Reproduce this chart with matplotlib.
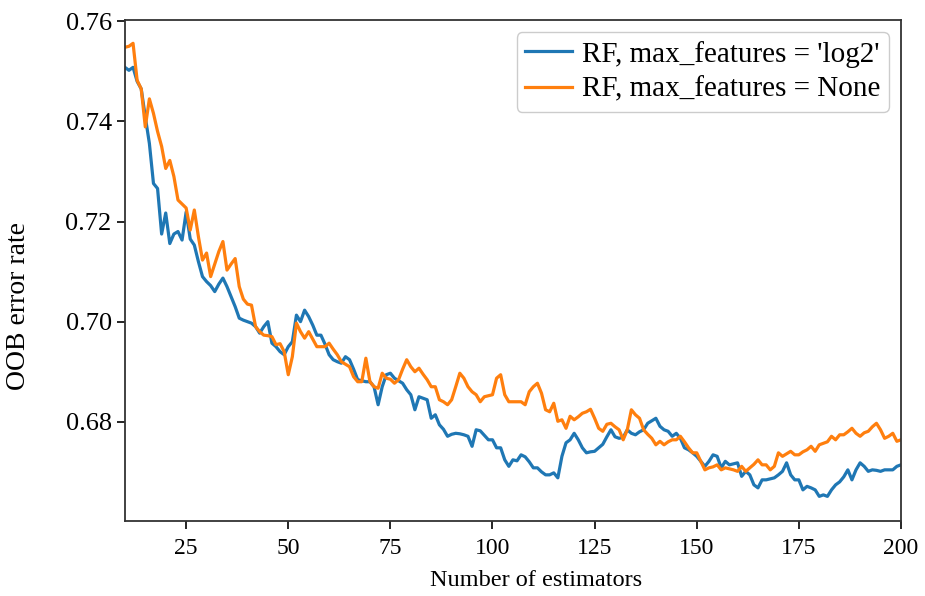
import numpy as np
import matplotlib
matplotlib.use("Agg")
import matplotlib.pyplot as plt

# number of trees in the forest
n_estimators = list(range(10, 201))

# OOB error, max_features = 'log2'
oob_log2 = [
    0.7508, 0.7502, 0.7508, 0.7480, 0.7465, 0.7409, 0.7356, 0.7276, 0.7266, 0.7175,
    0.7217, 0.7156, 0.7175, 0.7180, 0.7163, 0.7219, 0.7165, 0.7153, 0.7120, 0.7090,
    0.7080, 0.7072, 0.7060, 0.7075, 0.7087, 0.7070, 0.7050, 0.7030, 0.7007, 0.7003,
    0.7000, 0.6997, 0.6990, 0.6977, 0.6990, 0.7000, 0.6957, 0.6950, 0.6940, 0.6934,
    0.6950, 0.6960, 0.7013, 0.7000, 0.7023, 0.7010, 0.6993, 0.6973, 0.6973, 0.6955,
    0.6934, 0.6924, 0.6920, 0.6917, 0.6930, 0.6924, 0.6905, 0.6884, 0.6882, 0.6880,
    0.6880, 0.6870, 0.6834, 0.6870, 0.6894, 0.6897, 0.6887, 0.6882, 0.6877, 0.6864,
    0.6854, 0.6824, 0.6850, 0.6847, 0.6844, 0.6807, 0.6814, 0.6794, 0.6785, 0.6771,
    0.6775, 0.6777, 0.6776, 0.6774, 0.6771, 0.6751, 0.6784, 0.6782, 0.6773, 0.6764,
    0.6764, 0.6748, 0.6748, 0.6724, 0.6711, 0.6724, 0.6722, 0.6734, 0.6730, 0.6720,
    0.6708, 0.6708, 0.6700, 0.6694, 0.6694, 0.6698, 0.6688, 0.6731, 0.6758, 0.6764,
    0.6777, 0.6764, 0.6748, 0.6738, 0.6740, 0.6741, 0.6748, 0.6755, 0.6770, 0.6784,
    0.6770, 0.6767, 0.6769, 0.6784, 0.6777, 0.6774, 0.6780, 0.6784, 0.6797, 0.6802,
    0.6807, 0.6791, 0.6784, 0.6781, 0.6771, 0.6777, 0.6767, 0.6748, 0.6744, 0.6738,
    0.6731, 0.6721, 0.6711, 0.6721, 0.6734, 0.6731, 0.6708, 0.6721, 0.6714, 0.6716,
    0.6718, 0.6691, 0.6701, 0.6694, 0.6674, 0.6668, 0.6684, 0.6684, 0.6686, 0.6688,
    0.6694, 0.6701, 0.6718, 0.6694, 0.6684, 0.6684, 0.6664, 0.6671, 0.6668, 0.6664,
    0.6651, 0.6654, 0.6651, 0.6664, 0.6674, 0.6680, 0.6690, 0.6704, 0.6684, 0.6704,
    0.6718, 0.6711, 0.6701, 0.6704, 0.6703, 0.6701, 0.6704, 0.6704, 0.6704, 0.6711,
    0.6714,
]

# OOB error, max_features = None
oob_none = [
    0.7548, 0.7550, 0.7556, 0.7482, 0.7465, 0.7389, 0.7445, 0.7416, 0.7380, 0.7350,
    0.7306, 0.7322, 0.7290, 0.7243, 0.7235, 0.7227, 0.7183, 0.7223, 0.7170, 0.7123,
    0.7137, 0.7090, 0.7115, 0.7140, 0.7160, 0.7103, 0.7115, 0.7126, 0.7070, 0.7045,
    0.7035, 0.7033, 0.6990, 0.6980, 0.6973, 0.6972, 0.6970, 0.6954, 0.6956, 0.6940,
    0.6894, 0.6930, 0.6997, 0.6980, 0.6967, 0.6980, 0.6965, 0.6950, 0.6950, 0.6950,
    0.6957, 0.6945, 0.6934, 0.6920, 0.6915, 0.6910, 0.6890, 0.6880, 0.6880, 0.6927,
    0.6880, 0.6870, 0.6867, 0.6897, 0.6887, 0.6885, 0.6877, 0.6884, 0.6905, 0.6924,
    0.6910, 0.6900, 0.6907, 0.6895, 0.6884, 0.6870, 0.6870, 0.6844, 0.6840, 0.6834,
    0.6844, 0.6870, 0.6897, 0.6887, 0.6870, 0.6860, 0.6854, 0.6840, 0.6850, 0.6852,
    0.6854, 0.6887, 0.6894, 0.6854, 0.6840, 0.6840, 0.6840, 0.6840, 0.6834, 0.6860,
    0.6870, 0.6877, 0.6857, 0.6824, 0.6820, 0.6837, 0.6801, 0.6804, 0.6787, 0.6811,
    0.6804, 0.6810, 0.6817, 0.6820, 0.6825, 0.6807, 0.6787, 0.6781, 0.6795, 0.6797,
    0.6790, 0.6784, 0.6764, 0.6784, 0.6824, 0.6814, 0.6807, 0.6784, 0.6775, 0.6767,
    0.6754, 0.6761, 0.6754, 0.6760, 0.6764, 0.6764, 0.6771, 0.6760, 0.6748, 0.6738,
    0.6738, 0.6721, 0.6704, 0.6708, 0.6710, 0.6714, 0.6704, 0.6708, 0.6706, 0.6704,
    0.6701, 0.6711, 0.6701, 0.6708, 0.6715, 0.6724, 0.6714, 0.6714, 0.6704, 0.6711,
    0.6738, 0.6731, 0.6736, 0.6741, 0.6734, 0.6734, 0.6740, 0.6744, 0.6751, 0.6741,
    0.6754, 0.6757, 0.6760, 0.6771, 0.6764, 0.6774, 0.6774, 0.6780, 0.6787, 0.6777,
    0.6771, 0.6778, 0.6781, 0.6790, 0.6797, 0.6784, 0.6767, 0.6771, 0.6777, 0.6761,
    0.6764,
]

labels = ["RF, max_features = 'log2'", "RF, max_features = None"]

plt.rcParams['font.family'] = ['Liberation Serif', 'DejaVu Serif']

fig = plt.figure(figsize=(9.25, 5.96), dpi=100)
ax = fig.add_axes([0.135, 0.126, 0.839, 0.840])

ax.plot(n_estimators, oob_log2, color='#1f77b4', lw=2.3, label=labels[0])
ax.plot(n_estimators, oob_none, color='#ff7f0e', lw=2.3, label=labels[1])

ax.set_xlim(10, 200)
ax.set_ylim(0.6602, 0.7602)
ax.set_xticks([25, 50, 75, 100, 125, 150, 175, 200])
ax.set_yticks([0.68, 0.70, 0.72, 0.74, 0.76])
ax.set_yticklabels(['%.2f' % v for v in [0.68, 0.70, 0.72, 0.74, 0.76]])
ax.tick_params(direction='out', length=6, width=1.2)
ax.tick_params(axis='x', labelsize=17, pad=6)
ax.tick_params(axis='y', labelsize=19)
for s in ax.spines.values():
    s.set_linewidth(1.3)
    s.set_color('#333333')

ax.set_xlabel('Number of estimators', fontsize=17.5)
ax.set_ylabel('OOB error rate', fontsize=20)
# the labels sit a little off-centre in the original
ax.xaxis.set_label_coords(0.53, -0.098)
ax.yaxis.set_label_coords(-0.121, 0.43)

ax.legend(loc='upper right', fontsize=21, handlelength=1.6, handletextpad=0.35,
          borderpad=0.3, labelspacing=0.3, borderaxespad=0.4,
          framealpha=1.0, edgecolor='#cccccc')

fig.savefig('out.png', dpi=100)
